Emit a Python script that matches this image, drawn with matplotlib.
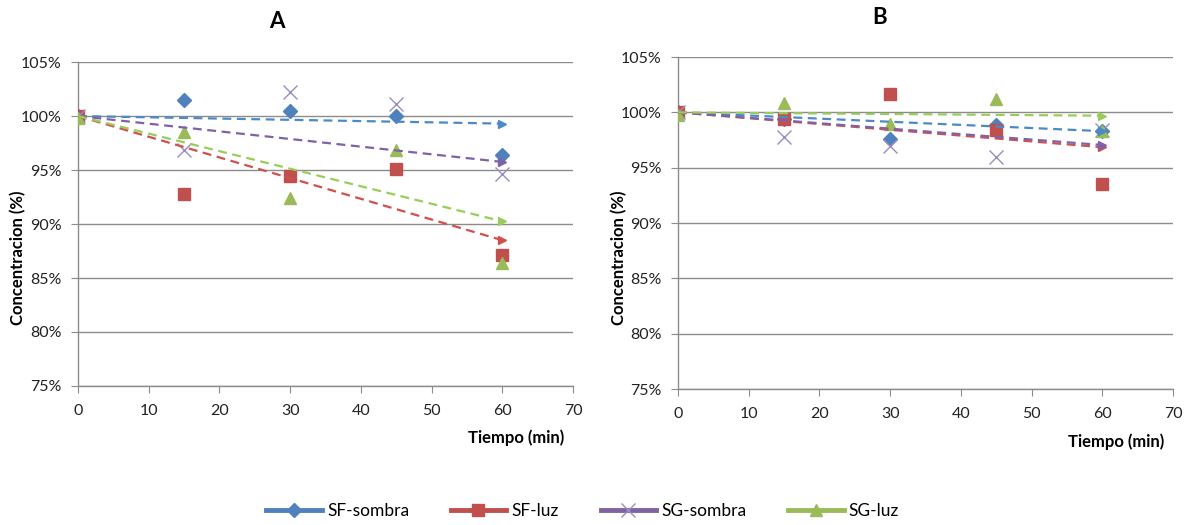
"""Concentration over time for SF/SG samples in shade and light, panels A and B."""

import matplotlib.pyplot as plt
from matplotlib.lines import Line2D
from matplotlib.ticker import FuncFormatter

tiempo = [0, 15, 30, 45, 60]
series_names = ["SF-sombra", "SF-luz", "SG-sombra", "SG-luz"]

# Panel A measurements (%)
a_sf_sombra = [100.0, 101.5, 100.5, 100.05, 96.4]
a_sf_luz = [100.0, 92.75, 94.45, 95.05, 87.15]
a_sg_sombra = [100.0, 96.85, 102.2, 101.15, 94.6]
a_sg_luz = [99.8, 98.5, 92.4, 96.9, 86.4]

# Panel B measurements (%)
b_sf_sombra = [100.0, 99.4, 97.6, 98.85, 98.35]
b_sf_luz = [100.0, 99.4, 101.7, 98.4, 93.5]
b_sg_sombra = [100.0, 97.75, 97.0, 96.0, 98.45]
b_sg_luz = [99.8, 100.8, 98.95, 101.25, 98.3]

# Trend line endpoints (value at t=0 and t=60)
trend_t = [0, 60]
a_trend = [[100.0, 99.3], [100.0, 88.5], [100.0, 95.75], [100.0, 90.25]]
b_trend = [[100.0, 98.3], [100.0, 96.85], [100.0, 97.05], [100.0, 99.7]]

colors = ["#4F81BD", "#C0504D", "#8064A2", "#9BBB59"]
trend_colors = ["#4A8AC6", "#D0504D", "#7D62A8", "#9ACC5C"]
markers = ["D", "s", "x", "^"]
msizes = [7, 9, 10, 9]

grid_col = "#8C8C8C"
tick_font = "Lato"
label_font = "Lato"


def draw_panel(ax, data, trends):
    for vals, col, mk, ms in zip(data, colors, markers, msizes):
        if mk == "x":
            ax.plot(tiempo, vals, ls="none", marker=mk, ms=ms, mew=1.0,
                    color="#9A8CC0", zorder=3)
        else:
            ax.plot(tiempo, vals, ls="none", marker=mk, ms=ms, color=col,
                    mec=col, zorder=3)
    for tr, col in zip(trends, trend_colors):
        ax.plot(trend_t, tr, ls=(0, (4, 2.5)), lw=1.6, color=col, zorder=4)
        ax.plot(trend_t[-1], tr[-1], ls="none", marker=">", ms=6, color=col,
                zorder=4)

    ax.set_xlim(0, 70)
    ax.set_ylim(75, 105)
    ax.set_xticks(range(0, 71, 10))
    ax.set_yticks(range(75, 106, 5))
    ax.yaxis.set_major_formatter(FuncFormatter(lambda v, _: f"{v:.0f}%"))
    ax.grid(axis="y", color=grid_col, lw=1.0)
    ax.set_axisbelow(True)
    for side in ("top", "right"):
        ax.spines[side].set_visible(False)
    for side in ("left", "bottom"):
        ax.spines[side].set_color(grid_col)
        ax.spines[side].set_linewidth(1.0)
    ax.tick_params(length=5, color=grid_col, labelsize=11.5)
    ax.tick_params(axis="y", pad=7)
    ax.tick_params(axis="x", pad=8)
    for lab in ax.get_xticklabels() + ax.get_yticklabels():
        lab.set_fontfamily(tick_font)
        lab.set_color("#222222")


fig = plt.figure(figsize=(11.94, 5.25), dpi=100)

ax_a = fig.add_axes([0.0653, 0.2648, 0.4146, 0.617])
ax_b = fig.add_axes([0.5678, 0.259, 0.4146, 0.6324])

draw_panel(ax_a, [a_sf_sombra, a_sf_luz, a_sg_sombra, a_sg_luz], a_trend)
draw_panel(ax_b, [b_sf_sombra, b_sf_luz, b_sg_sombra, b_sg_luz], b_trend)

fig.text(277 / 1194, 1 - 22 / 525, "A", ha="center", va="center",
         fontsize=16, fontweight="bold", family=label_font)
fig.text(880 / 1194, 1 - 17 / 525, "B", ha="center", va="center",
         fontsize=16, fontweight="bold", family=label_font)

for x, y in [(18, 258), (619, 258)]:
    fig.text(x / 1194, 1 - y / 525, "Concentracion (%)", rotation=90,
             ha="center", va="center", fontsize=12, fontweight="bold",
             family=label_font)

fig.text(516 / 1194, 1 - 438 / 525, "Tiempo (min)", ha="center",
         va="center", fontsize=12, fontweight="bold", family=label_font)
fig.text(1116 / 1194, 1 - 442 / 525, "Tiempo (min)", ha="center",
         va="center", fontsize=12, fontweight="bold", family=label_font)

handles = []
for name, col, mk, ms in zip(series_names, colors, markers, msizes):
    mcol = "#9A8CC0" if mk == "x" else col
    handles.append(Line2D([0], [0], color=col, lw=3.5, marker=mk,
                          ms=ms, mfc=mcol, mec=mcol, mew=1.0, label=name))
fig.legend(handles=handles, loc="center", bbox_to_anchor=(0.488, 0.027),
           ncol=4, frameon=False, handlelength=3.2, handletextpad=0.3,
           columnspacing=2.4, prop={"family": label_font, "size": 12.5})

fig.savefig("out.png", dpi=100)
